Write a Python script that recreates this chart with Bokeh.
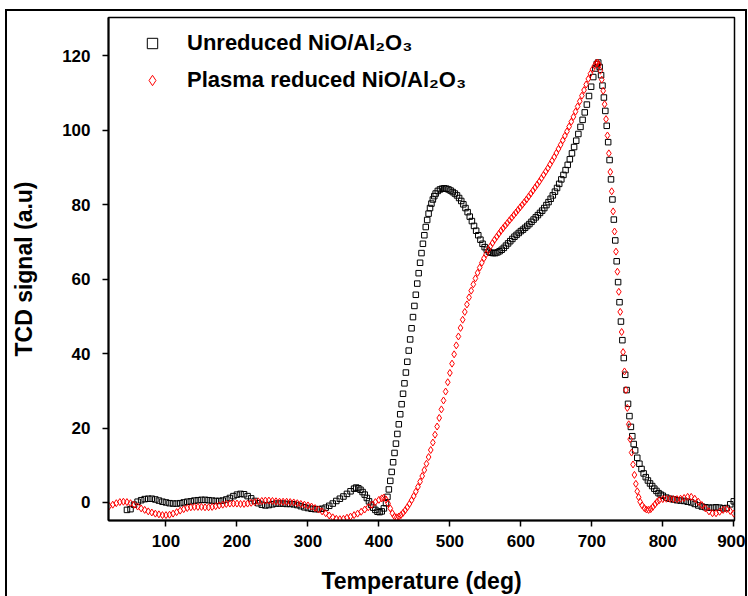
from bokeh.plotting import figure
from bokeh.models import Legend, LegendItem
from bokeh.embed import file_html
from bokeh.resources import INLINE

# Unreduced NiO/Al2O3 (black open squares)
t_unred = [45, 50, 55, 60, 65, 70, 75, 80, 85, 90, 95, 100, 105, 110, 115, 120, 125, 130, 135, 140,
           145, 150, 155, 160, 165, 170, 175, 180, 185, 190, 195, 200, 205, 210, 215, 220, 225, 230,
           235, 240, 245, 250, 255, 260, 265, 270, 275, 280, 285, 290, 295, 300, 305, 310, 315, 320,
           325, 330, 335, 340, 345, 350, 355, 360, 365, 368, 371, 374, 377, 380, 383, 386, 389, 392,
           395, 398, 401, 404, 407, 410, 412, 414, 416, 418, 420, 422, 424, 426, 428, 430, 432, 434,
           436, 438, 440, 442, 444, 446, 448, 450, 452, 454, 456, 458, 460, 462, 464, 466, 468, 470,
           472, 474, 476, 478, 480, 483, 486, 489, 492, 495, 498, 501, 504, 507, 510, 513, 516, 519,
           522, 525, 528, 531, 534, 537, 540, 543, 546, 549, 552, 555, 558, 561, 564, 567, 570, 573,
           576, 579, 582, 585, 588, 591, 594, 597, 600, 603, 606, 609, 612, 615, 618, 621, 624, 627,
           630, 633, 636, 639, 642, 645, 648, 651, 654, 657, 660, 663, 666, 669, 672, 675, 678, 681,
           684, 687, 690, 693, 696, 699, 702, 705, 707, 709, 711, 713, 715, 717, 719, 721, 723, 725,
           727, 729, 731, 733, 735, 737, 739, 741, 743, 745, 747, 749, 751, 753, 755, 757, 759, 761,
           764, 767, 770, 773, 776, 779, 782, 785, 788, 791, 794, 797, 800, 805, 810, 815, 820, 825,
           830, 835, 840, 845, 850, 855, 860, 865, 870, 875, 880, 885, 890, 895, 900]
v_unred = [-2.0, -1.8, -0.6, 0.2, 0.6, 0.9, 1.0, 1.0, 0.8, 0.5, 0.2, 0.0, -0.2, -0.3, -0.3, -0.2, 0.0,
           0.2, 0.3, 0.5, 0.6, 0.7, 0.7, 0.6, 0.5, 0.4, 0.4, 0.5, 0.8, 1.2, 1.7, 2.1, 2.3, 2.2, 1.7,
           1.1, 0.4, -0.2, -0.6, -0.8, -0.7, -0.5, -0.3, -0.3, -0.3, -0.4, -0.4, -0.5, -0.7, -1.0,
           -1.3, -1.5, -1.7, -1.8, -1.8, -1.7, -1.4, -0.9, -0.3, 0.4, 1.0, 1.6, 2.3, 3.0, 3.7, 4.0,
           3.8, 3.4, 2.8, 2.1, 1.2, 0.3, -0.6, -1.4, -2.0, -2.5, -2.6, -2.4, -1.6, -0.2, 1.5, 3.5,
           5.8, 8.2, 10.8, 13.3, 15.8, 18.4, 21.0, 23.7, 26.4, 29.2, 32.0, 34.9, 37.8, 40.8, 43.8,
           46.8, 49.8, 52.8, 55.8, 58.8, 61.6, 64.4, 67.0, 69.5, 71.8, 74.0, 75.9, 77.6, 79.1, 80.3,
           81.4, 82.3, 83.0, 83.7, 84.1, 84.3, 84.4, 84.3, 84.1, 83.8, 83.4, 83.0, 82.5, 81.8, 81.0,
           80.1, 79.1, 78.0, 76.8, 75.6, 74.3, 73.0, 71.8, 70.6, 69.5, 68.6, 67.9, 67.4, 67.1, 67.0,
           67.0, 67.2, 67.5, 67.9, 68.4, 69.0, 69.6, 70.2, 70.8, 71.4, 71.9, 72.4, 72.9, 73.3, 73.8,
           74.3, 74.8, 75.4, 76.0, 76.6, 77.2, 77.8, 78.4, 79.1, 79.9, 80.7, 81.6, 82.5, 83.5, 84.5,
           85.6, 86.8, 88.0, 89.3, 90.7, 92.2, 93.8, 95.5, 97.2, 99.0, 100.9, 102.8, 104.8, 106.9,
           109.2, 111.7, 114.3, 116.6, 117.8, 118.2, 117.0, 114.8, 112.0, 108.8, 105.2, 101.2, 96.8,
           92.0, 86.8, 81.4, 76.0, 70.4, 64.8, 59.2, 53.8, 48.6, 43.6, 38.8, 34.3, 30.2, 26.5, 23.2,
           20.3, 17.8, 15.7, 14.0, 12.0, 10.4, 9.0, 7.8, 6.8, 5.9, 5.1, 4.4, 3.7, 3.1, 2.5, 2.1, 1.8,
           1.3, 1.0, 0.8, 0.6, 0.5, 0.4, 0.2, 0.0, -0.4, -0.8, -1.1, -1.3, -1.4, -1.4, -1.3, -1.4,
           -1.6, -1.5, -0.5, 0.3]

# Plasma reduced NiO/Al2O3 (red open diamonds)
t_plasma = [20, 25, 30, 35, 40, 45, 50, 55, 60, 65, 70, 75, 80, 85, 90, 95, 100, 105, 110, 115, 120,
            125, 130, 135, 140, 145, 150, 155, 160, 165, 170, 175, 180, 185, 190, 195, 200, 205, 210,
            215, 220, 225, 230, 235, 240, 245, 250, 255, 260, 265, 270, 275, 280, 285, 290, 295, 300,
            305, 310, 315, 320, 325, 330, 335, 340, 345, 350, 355, 360, 365, 370, 375, 380, 385, 390,
            395, 400, 404, 407, 410, 413, 416, 419, 422, 425, 428, 431, 434, 437, 440, 443, 446, 449,
            452, 455, 458, 461, 464, 467, 470, 473, 476, 479, 482, 485, 488, 491, 494, 497, 500, 503,
            506, 509, 512, 515, 518, 521, 524, 527, 530, 533, 536, 539, 542, 545, 548, 551, 554, 557,
            560, 563, 566, 569, 572, 575, 578, 581, 584, 587, 590, 593, 596, 599, 602, 605, 608, 611,
            614, 617, 620, 623, 626, 629, 632, 635, 638, 641, 644, 647, 650, 653, 656, 659, 662, 665,
            668, 671, 674, 677, 680, 683, 686, 689, 692, 695, 698, 701, 704, 706, 708, 710, 712, 714,
            716, 718, 720, 722, 724, 726, 728, 730, 732, 734, 736, 738, 740, 742, 744, 746, 748, 750,
            752, 754, 756, 758, 760, 762, 764, 766, 768, 771, 774, 777, 780, 783, 786, 789, 792, 795,
            800, 805, 810, 815, 820, 825, 830, 835, 840, 845, 850, 855, 860, 865, 870, 875, 880, 885,
            890, 895, 900]
v_plasma = [-1.0, -0.6, -0.2, 0.1, 0.2, 0.1, -0.2, -0.6, -1.1, -1.6, -2.0, -2.4, -2.7, -3.0, -3.2,
            -3.4, -3.4, -3.3, -3.0, -2.6, -2.2, -1.8, -1.5, -1.3, -1.2, -1.2, -1.2, -1.3, -1.3, -1.2,
            -1.0, -0.8, -0.6, -0.4, -0.3, -0.3, -0.3, -0.4, -0.4, -0.3, -0.1, 0.1, 0.3, 0.4, 0.5, 0.5,
            0.4, 0.3, 0.2, 0.2, 0.2, 0.1, 0.0, -0.2, -0.4, -0.6, -0.8, -1.1, -1.5, -1.9, -2.4, -2.9,
            -3.5, -4.0, -4.4, -4.5, -4.4, -4.1, -3.8, -3.4, -3.0, -2.5, -1.9, -1.3, -0.6, 0.1, 0.7,
            1.1, 1.3, 0.8, -0.3, -1.6, -2.9, -3.8, -4.0, -3.8, -3.4, -2.8, -2.1, -1.3, -0.4, 0.6, 1.7,
            2.9, 4.2, 5.6, 7.1, 8.7, 10.4, 12.2, 14.1, 16.1, 18.2, 20.4, 22.7, 25.0, 27.4, 29.8, 32.3,
            34.8, 37.3, 39.8, 42.2, 44.6, 46.9, 49.1, 51.2, 53.2, 55.1, 56.9, 58.6, 60.2, 61.7, 63.1,
            64.4, 65.6, 66.7, 67.8, 68.8, 69.7, 70.6, 71.4, 72.2, 73.0, 73.7, 74.4, 75.1, 75.8, 76.5,
            77.2, 77.9, 78.6, 79.3, 80.0, 80.7, 81.4, 82.2, 83.0, 83.8, 84.6, 85.4, 86.2, 87.1, 88.0,
            88.9, 89.8, 90.8, 91.8, 92.8, 93.9, 95.0, 96.1, 97.3, 98.5, 99.7, 101.0, 102.3, 103.6,
            105.0, 106.4, 107.8, 109.3, 110.8, 112.3, 113.8, 115.2, 116.4, 117.4, 118.0, 118.2, 117.6,
            116.0, 113.6, 110.6, 107.0, 103.0, 98.6, 93.8, 88.8, 83.6, 78.2, 72.8, 67.4, 62.0, 56.6,
            51.2, 45.8, 40.4, 35.2, 30.2, 25.4, 21.0, 17.0, 13.4, 10.2, 7.4, 5.0, 3.0, 1.4, 0.2, -0.8,
            -1.5, -1.9, -2.0, -1.8, -1.2, -0.5, 0.2, 0.6, 0.9, 1.0, 1.0, 0.9, 0.9, 1.0, 1.2, 1.5, 1.5,
            1.0, 0.2, -0.7, -1.6, -2.4, -2.9, -2.9, -2.5, -2.0, -1.8, -2.3, -3.0]

x_ticks = [100, 200, 300, 400, 500, 600, 700, 800, 900]
y_ticks = [0, 20, 40, 60, 80, 100, 120]

FONT = "Liberation Sans"

p = figure(width=742, height=587, x_range=(19, 901), y_range=(-4.85, 130.3),
           output_backend="svg", toolbar_location=None,
           min_border_left=101, min_border_right=15, min_border_top=6, min_border_bottom=78)
p.styles = {"border": "2px solid black", "border-bottom": "none",
            "margin-left": "5px", "margin-top": "9px"}

r1 = p.scatter(t_unred, v_unred, marker="square", size=5.5, fill_color=None,
               line_color="black", line_width=1)
r2 = p.scatter(t_plasma, v_plasma, marker="diamond", size=7, fill_color=None,
               line_color="red", line_width=1)

p.xgrid.visible = False
p.ygrid.visible = False
p.outline_line_color = "black"
p.outline_line_width = 1.5

p.xaxis.ticker = x_ticks
p.yaxis.ticker = y_ticks
for ax in (p.xaxis[0], p.yaxis[0]):
    ax.axis_line_width = 2
    ax.major_tick_line_width = 1.5
    ax.major_tick_in = 0
    ax.major_tick_out = 6
    ax.minor_tick_line_color = None
    ax.major_label_text_font = FONT
    ax.major_label_text_font_style = "bold"
    ax.major_label_text_font_size = "17px"
    ax.major_label_text_color = "black"
    ax.axis_label_text_font = FONT
    ax.axis_label_text_font_style = "bold"
    ax.axis_label_text_font_size = "23px"
    ax.axis_label_text_color = "black"

p.xaxis.axis_label = "Temperature (deg)"
p.yaxis.axis_label = "TCD signal (a.u)"
p.xaxis.axis_label_standoff = 18
p.yaxis.axis_label_standoff = 22
p.xaxis.major_label_standoff = 8
p.yaxis.major_label_standoff = 12

legend = Legend(items=[LegendItem(label="Unreduced NiO/Al\u2082O\u2083", renderers=[r1]),
                       LegendItem(label="Plasma reduced NiO/Al\u2082O\u2083", renderers=[r2])],
                location="top_left")
legend.border_line_color = None
legend.background_fill_alpha = 0
legend.margin = 13
legend.padding = 0
legend.glyph_width = 62
legend.glyph_height = 26
legend.label_height = 26
legend.label_standoff = 4
legend.spacing = 11
legend.label_text_font = FONT
legend.label_text_font_style = "bold"
legend.label_text_font_size = "22px"
legend.label_text_color = "black"
p.add_layout(legend)

open("out.html", "w").write(file_html(p, INLINE))
